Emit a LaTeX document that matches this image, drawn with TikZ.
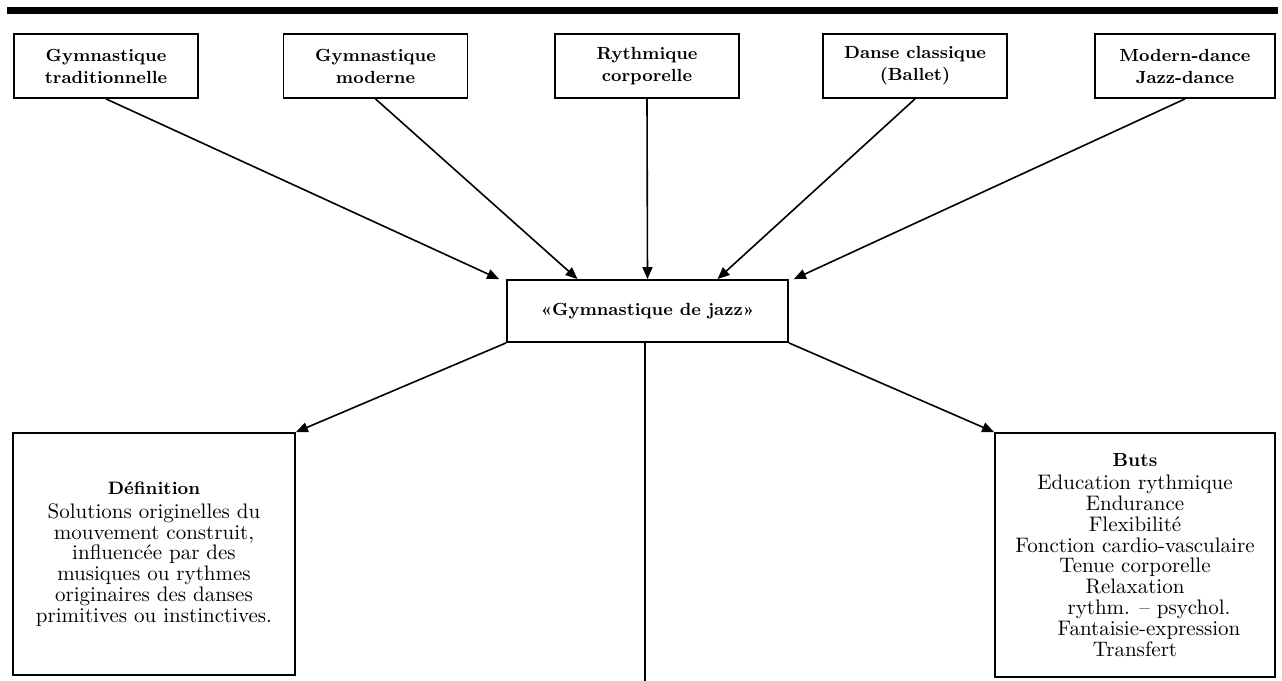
\documentclass[tikz,border=0pt]{standalone}
\usepackage{amsmath}
\usetikzlibrary{arrows, arrows.meta}

\begin{document}
\begin{tikzpicture}[x=0.5pt, y=-0.5pt,
    source/.style={draw, line width=0.9pt, minimum width=92pt, minimum height=32pt, inner sep=0pt, align=center, font=\fontsize{8.8}{11}\selectfont\bfseries},
    infobox/.style={draw, line width=0.9pt, minimum width=141pt, minimum height=121pt, inner sep=0pt, align=center, font=\fontsize{10.5}{10.4}\selectfont},
    link/.style={line width=0.8pt, -{Triangle[length=6pt, width=5pt]}}]
      \useasboundingbox (0,0) rectangle (1282,681);
      \draw[line width=3.5pt] (7,10) -- (1278,10);

      \node[source] (g1) at (106,66) {Gymnastique\\traditionnelle};
      \node[source] (g2) at (375.5,66) {Gymnastique\\moderne};
      \node[source] (g3) at (647,66) {Rythmique\\corporelle};
      \node[source] (g4) at (915,66) {Danse classique\\(Ballet)};
      \node[source, minimum width=90pt] (g5) at (1185,66) {Modern-dance\\Jazz-dance};

      \node[source, minimum width=140.5pt, minimum height=31pt] (jazz) at (647.5,311) {«Gymnastique de jazz»};

      \node[infobox] (def) at (154,554) {{\fontsize{9}{10}\selectfont\bfseries Définition}\\[1.5pt]
        Solutions originelles du\\mouvement construit,\\influencée par des\\musiques ou rythmes\\originaires des danses\\primitives ou instinctives.};
      \node[infobox, minimum width=140pt, minimum height=122pt] (buts) at (1135,555) {{\fontsize{9.5}{10}\selectfont\bfseries Buts}\\[1pt]
        Education rythmique\\Endurance\\Flexibilité\\Fonction cardio-vasculaire\\Tenue corporelle\\Relaxation\\\hspace{14pt}rythm. -- psychol.\\\hspace{14pt}Fantaisie-expression\\Transfert};

      \coordinate (foot) at (645,690);

      \draw[link] (g1.south) -- ([xshift=-3.5pt]jazz.north west);
      \draw[link] (g2.south) -- ([xshift=-35pt]jazz.north);
      \draw[link] (g3.south) -- (jazz.north);
      \draw[link] (g4.south) -- ([xshift=35pt]jazz.north);
      \draw[link] (g5.south) -- ([xshift=2.5pt]jazz.north east);
      \draw[link] (jazz.south west) -- (def.north east);
      \draw[link] (jazz.south east) -- (buts.north west);
      \draw[line width=0.8pt] (jazz.south -| foot) -- (foot);
    \end{tikzpicture}
\end{document}
